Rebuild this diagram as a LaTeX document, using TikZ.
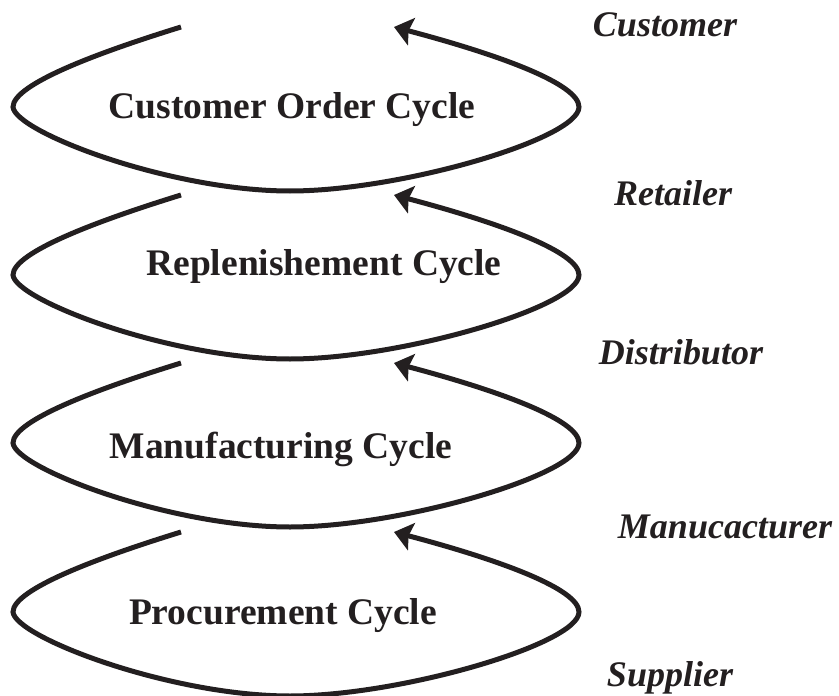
\documentclass[tikz,border=0pt]{standalone}
\usepackage{fontspec}
\setmainfont{Liberation Serif}
\usetikzlibrary{arrows.meta}
\definecolor{ink}{RGB}{35,31,32}
\begin{document}
\begin{tikzpicture}[x=1pt,y=-1pt,
  loopline/.style={line width=5pt, draw=ink, -{Stealth[length=18pt,width=28pt,inset=3pt]}},
  cyc/.style={font=\fontsize{37.5}{42}\selectfont\bfseries, text=ink, inner sep=0pt},
  role/.style={font=\fontsize{36}{40}\selectfont\bfseries\itshape, text=ink, inner sep=0pt}]
\useasboundingbox (0,0) rectangle (839,696);
\foreach \dy/\n in {0/1,168/2,336/3,505/4}{
  \begin{scope}[shift={(0,\dy)}]
    \coordinate (s\n) at (181,27);
    \coordinate (l\n) at (13,107);
    \coordinate (b\n) at (290,191);
    \coordinate (r\n) at (579,107);
    \coordinate (e\n) at (394,27);
    \draw[loopline] (s\n) .. controls (100,52) and (13,84) .. (l\n)
      .. controls (15,132) and (170,191) .. (b\n)
      .. controls (400,191) and (579,139) .. (r\n)
      .. controls (579,84) and (500,55) .. (e\n);
  \end{scope}
}
\node[cyc] (c1) at (292,110) {Customer Order Cycle};
\node[cyc] (c2) at (324,267) {Replenishement Cycle};
\node[cyc] (c3) at (281,449) {Manufacturing Cycle};
\node[cyc] (c4) at (283,616) {Procurement Cycle};
\node[role] (p1) at (665,25) {Customer};
\node[role] (p2) at (673,193) {Retailer};
\node[role] (p3) at (681,352) {Distributor};
\node[role] (p4) at (725,527) {Manucacturer};
\node[role] (p5) at (670,678) {Supplier};
\end{tikzpicture}
\end{document}
